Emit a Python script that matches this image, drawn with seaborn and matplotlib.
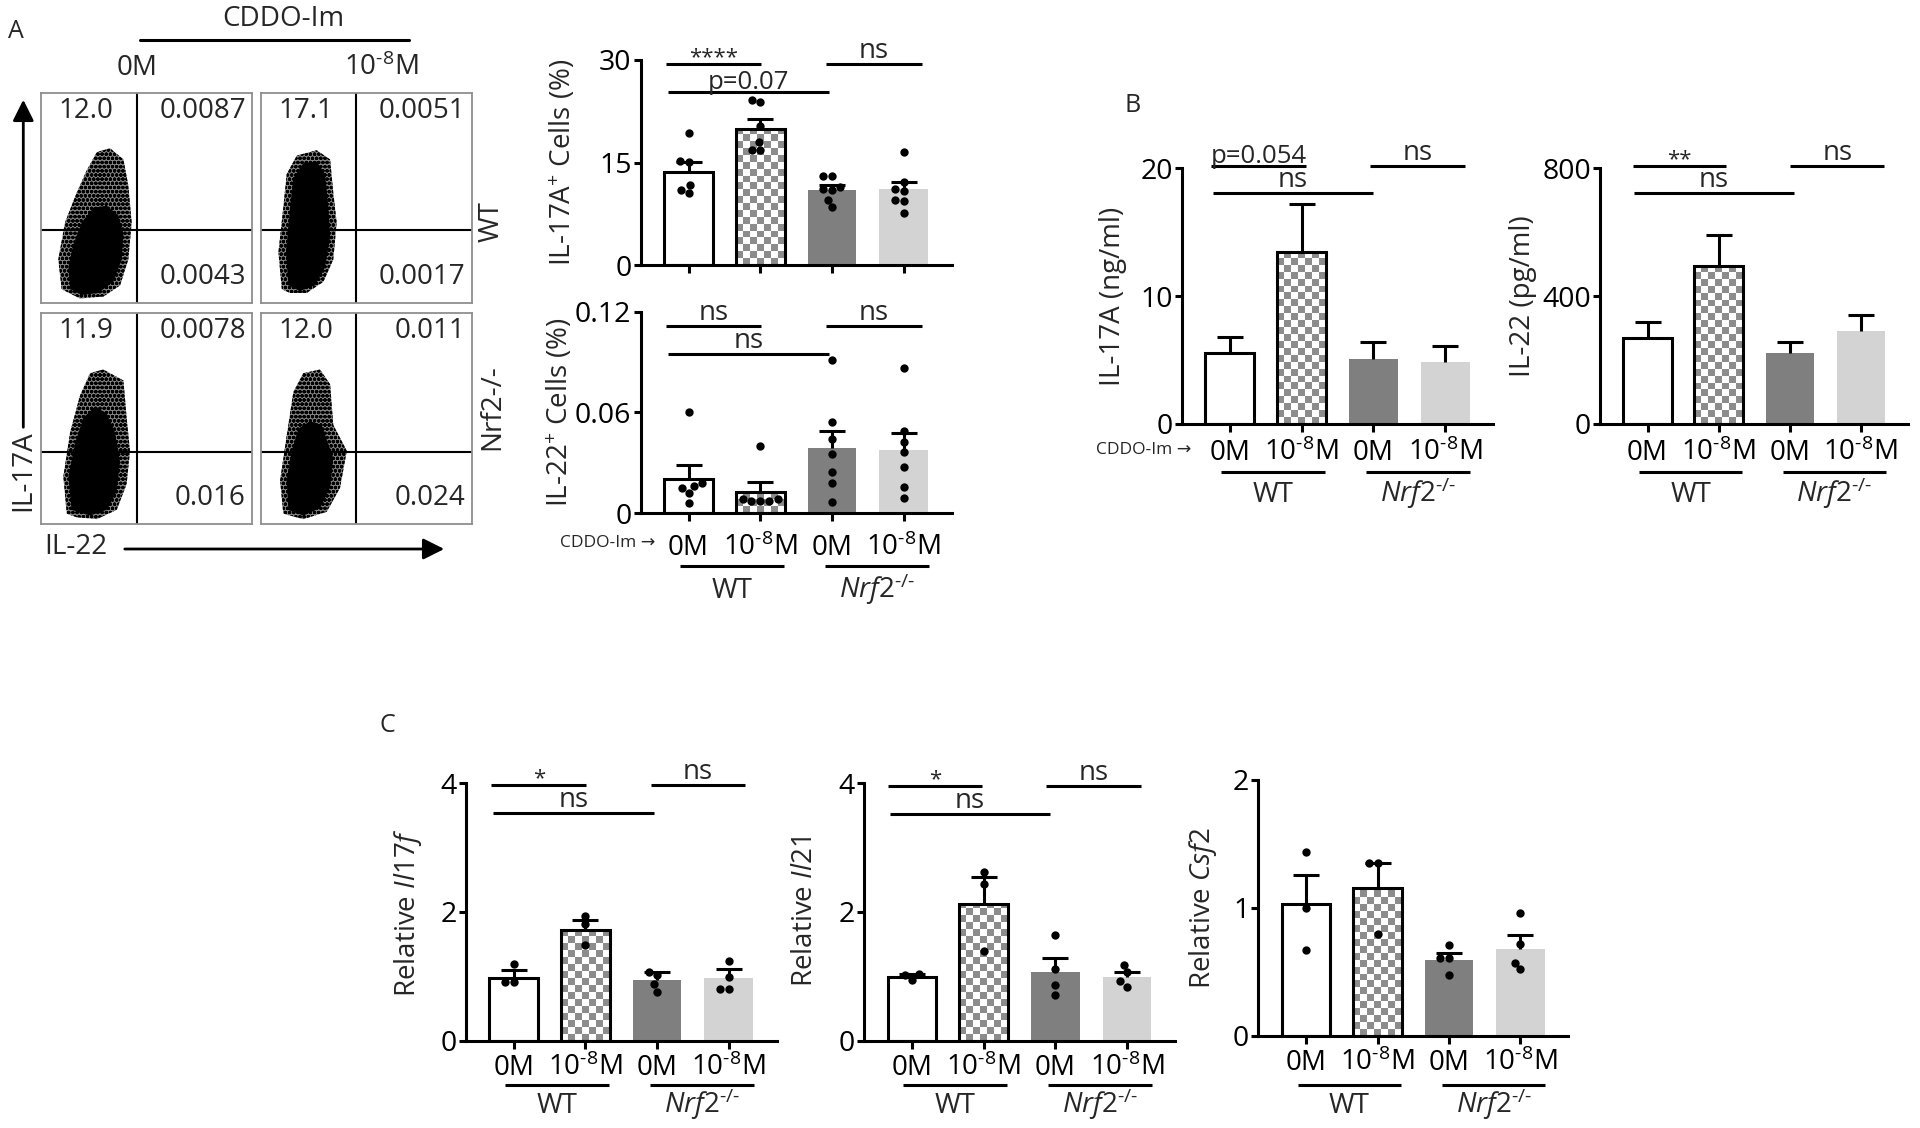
import numpy as np
import pandas as pd
import matplotlib
matplotlib.use("Agg")
import matplotlib.pyplot as plt
import matplotlib.transforms as mtransforms
from matplotlib.colors import ListedColormap
import seaborn as sns

# ---- data ----
groups = ["WT_0M", "WT_CDDO", "KO_0M", "KO_CDDO"]
cond_labels = ["0M", r"10$^{\text{-}8}$M", "0M", r"10$^{\text{-}8}$M"]
genotype_labels = ["WT", r"$\mathit{Nrf2}^{\text{-/-}}$"]
bar_colors = ["white", "white", "#7f7f7f", "#d3d3d3"]

# A: intracellular staining (% of cells)
il17a_pct_mean = [13.7, 19.9, 11.0, 11.1]
il17a_pct_sem = [1.4, 1.45, 0.8, 1.1]
il17a_pct_points = [
    [19.4, 15.3, 15.1, 11.7, 10.5, 11.0],
    [23.8, 24.2, 20.4, 18.0, 16.8, 16.9],
    [13.1, 13.0, 11.2, 11.0, 11.4, 9.6, 8.5],
    [16.6, 12.2, 11.1, 10.9, 9.4, 9.6, 7.7],
]
il22_pct_mean = [0.0203, 0.0127, 0.0386, 0.0377]
il22_pct_sem = [0.0087, 0.0058, 0.0105, 0.0101]
il22_pct_points = [
    [0.060, 0.015, 0.018, 0.016, 0.012, 0.006],
    [0.040, 0.0083, 0.0076, 0.0076, 0.0076, 0.0083],
    [0.091, 0.0545, 0.044, 0.035, 0.0247, 0.0179, 0.007],
    [0.0866, 0.049, 0.0425, 0.0364, 0.0273, 0.0159, 0.0094],
]

# B: ELISA
il17a_elisa_mean = [5.53, 13.43, 5.08, 4.88]
il17a_elisa_sem = [1.30, 3.75, 1.31, 1.22]
il22_elisa_mean = [268, 494, 223, 292]
il22_elisa_sem = [52, 96, 32.5, 48]

# C: qPCR
il17f_mean = [0.98, 1.72, 0.95, 0.98]
il17f_sem = [0.12, 0.155, 0.11, 0.14]
il17f_points = [[1.19, 0.91, 0.91], [1.94, 1.81, 1.49],
                [1.02, 1.07, 0.88, 0.76], [1.24, 0.99, 0.80, 0.80]]
il21_mean = [0.99, 2.12, 1.06, 0.99]
il21_sem = [0.04, 0.42, 0.23, 0.08]
il21_points = [[1.03, 0.95, 1.02], [2.62, 2.44, 1.39],
               [1.65, 1.11, 0.86, 0.71], [1.06, 1.18, 0.92, 0.84]]
csf2_mean = [1.03, 1.16, 0.59, 0.68]
csf2_sem = [0.23, 0.19, 0.06, 0.11]
csf2_points = [[1.44, 1.00, 0.67], [1.35, 1.35, 0.80],
               [0.61, 0.71, 0.61, 0.48], [0.96, 0.72, 0.52, 0.57]]

# significance brackets: (from, to, height, label)
brk_il17a_pct = [(-0.31, 1.01, 29.4, "****"), (-0.29, 1.96, 25.3, "p=0.07"), (1.92, 3.25, 29.4, "ns")]
brk_il22_pct = [(-0.31, 1.01, 0.1113, "ns"), (-0.29, 1.96, 0.0949, "ns"), (1.92, 3.25, 0.1113, "ns")]
brk_il17a_elisa = [(-0.26, 1.06, 20.2, "p=0.054"), (-0.24, 2.0, 18.1, "ns"), (1.95, 3.27, 20.2, "ns")]
brk_il22_elisa = [(-0.21, 1.11, 808, "**"), (-0.19, 2.06, 722, "ns"), (2.01, 3.33, 808, "ns")]
brk_il17f = [(-0.31, 1.01, 3.97, "*"), (-0.29, 1.96, 3.54, "ns"), (1.91, 3.23, 3.97, "ns")]
brk_il21 = [(-0.33, 0.98, 3.96, "*"), (-0.31, 1.92, 3.53, "ns"), (1.87, 3.20, 3.96, "ns")]

# flow plots: quadrant percentages and gate positions (WT 0M, WT CDDO, KO 0M, KO CDDO)
flow_ul = ["12.0", "17.1", "11.9", "12.0"]
flow_ur = ["0.0087", "0.0051", "0.0078", "0.011"]
flow_lr = ["0.0043", "0.0017", "0.016", "0.024"]
flow_vgate = [45.4, 45.2, 45.4, 45.2]
flow_hgate = [34.7, 34.7, 34.4, 34.4]

# outlines of the event clouds (outer sparse halo, dense core)
wt0_outer_x = [9.9, 8.3, 11.5, 17.0, 21.7, 26.5, 32.8, 39.1, 41.4, 43.0, 41.4, 37.5, 29.6, 18.6]
wt0_outer_y = [6.7, 20.8, 38.4, 52.5, 63.0, 71.8, 73.6, 68.3, 56.0, 38.4, 20.8, 8.5, 3.2, 2.3]
wt0_core_x = [13.9, 13.1, 15.4, 19.4, 24.9, 31.2, 36.7, 39.1, 38.3, 34.3, 27.2, 19.4]
wt0_core_y = [6.7, 17.3, 27.8, 38.4, 45.4, 46.3, 41.9, 33.1, 20.8, 10.2, 4.9, 4.0]
wt8_outer_x = [10.0, 8.4, 10.7, 12.3, 17.1, 26.5, 32.9, 34.4, 36.0, 34.4, 29.7, 21.8, 13.9]
wt8_outer_y = [6.7, 24.3, 45.4, 61.3, 70.1, 72.7, 68.3, 52.5, 38.4, 20.8, 10.2, 4.9, 4.9]
wt8_core_x = [13.1, 12.0, 13.9, 15.5, 20.2, 26.5, 30.5, 32.1, 32.9, 30.5, 25.8, 18.6]
wt8_core_y = [8.5, 24.3, 45.4, 59.5, 66.5, 67.4, 61.3, 45.4, 31.3, 17.3, 8.5, 5.8]
ko0_outer_x = [12.3, 10.7, 13.9, 18.6, 23.3, 29.6, 39.1, 40.6, 42.2, 40.6, 35.9, 26.5, 17.0]
ko0_outer_y = [4.9, 22.5, 43.5, 61.1, 71.6, 73.3, 68.1, 50.5, 34.7, 18.9, 6.7, 2.3, 3.2]
ko0_core_x = [14.6, 13.1, 16.2, 20.2, 25.7, 31.2, 35.1, 37.5, 35.9, 31.2, 23.3]
ko0_core_y = [6.7, 22.5, 38.2, 50.5, 55.8, 52.3, 43.5, 29.5, 15.4, 6.7, 4.0]
ko8_outer_x = [10.7, 9.2, 12.3, 15.5, 20.2, 28.1, 32.9, 34.4, 40.8, 37.6, 31.3, 20.2]
ko8_outer_y = [4.9, 20.7, 41.8, 62.8, 71.6, 73.3, 66.3, 47.0, 34.7, 17.2, 5.8, 2.3]
ko8_core_x = [13.1, 12.3, 14.7, 17.9, 23.4, 28.9, 31.3, 34.4, 32.9, 28.1, 20.2]
ko8_core_y = [6.7, 20.7, 34.7, 45.3, 48.8, 47.0, 40.0, 31.2, 17.2, 7.5, 4.0]

# ---- style ----
sns.set_style("ticks")
plt.rcParams["font.family"] = ["Open Sans", "DejaVu Sans"]
plt.rcParams["mathtext.fontset"] = "custom"
plt.rcParams["mathtext.rm"] = "Open Sans"
plt.rcParams["mathtext.it"] = "Open Sans:italic"
plt.rcParams["mathtext.bf"] = "Open Sans:bold"
plt.rcParams["mathtext.default"] = "regular"
plt.rcParams["font.size"] = 20
plt.rcParams["axes.linewidth"] = 2.2
plt.rcParams["axes.edgecolor"] = "black"
plt.rcParams["hatch.linewidth"] = 1.2

W, H = 1920, 1128
fig = plt.figure(figsize=(W / 100, H / 100), dpi=100)
fig.patch.set_facecolor("white")
LW = 2.2
group_spans = [(-0.12, 1.33), (1.9, 3.35)]


def px_axes(left, top, right, bottom):
    return fig.add_axes([left / W, 1 - bottom / H, (right - left) / W, (bottom - top) / H])


def checker_fill(ax, patch, square_px=6.9, color="#8c8c8c"):
    x0, w = patch.get_x(), patch.get_width()
    top = ax.get_ylim()[1]
    px0, py0 = ax.transData.transform((x0, 0))
    px1, py1 = ax.transData.transform((x0 + w, top))
    ncol = max(1, int(round((px1 - px0) / square_px)))
    nrow = max(1, int(round((py1 - py0) / square_px)))
    board = np.add.outer(np.arange(nrow), np.arange(ncol)) % 2
    im = ax.imshow(board, cmap=ListedColormap(["white", color]), extent=(x0, x0 + w, 0, top),
                   aspect="auto", interpolation="nearest", origin="lower", zorder=0.9)
    im.set_clip_path(patch)
    patch.set_facecolor("none")


def offset(ax, dy_px):
    base = mtransforms.blended_transform_factory(ax.transData, ax.transAxes)
    return base + mtransforms.ScaledTranslation(0, -dy_px / 100, fig.dpi_scale_trans)


def bar_chart(ax, means, sems, points, ymax, yticks, ylabel, ylabel_dx, brackets,
              show_xlabels=True, base_dy=35, line_dy=44, label_dy=73):
    df = pd.DataFrame({"group": groups, "value": means})
    sns.barplot(data=df, x="group", y="value", hue="group", order=groups, hue_order=groups,
                palette=bar_colors, width=0.68, saturation=1, errorbar=None, legend=False, ax=ax)
    bars = list(ax.patches[:4])
    for i, p in enumerate(bars):
        p.set_zorder(1)
        if i < 2:
            p.set_edgecolor("black")
            p.set_linewidth(LW)
        else:
            p.set_linewidth(0)
    eb = ax.errorbar(np.arange(4), means, yerr=[np.zeros(4), sems], fmt="none", ecolor="black",
                     elinewidth=LW, capsize=9.6, capthick=LW, zorder=3)
    for cap in eb[1]:
        if np.allclose(cap.get_ydata(), means):
            cap.set_visible(False)
    if points is not None:
        rows = [(g, v) for g, vals in zip(groups, points) for v in vals]
        pts = pd.DataFrame(rows, columns=["group", "value"])
        sns.swarmplot(data=pts, x="group", y="value", order=groups, color="black", size=6,
                      ax=ax, zorder=4)
    ax.set_xlim(-0.67, 3.67)
    ax.set_ylim(0, ymax)
    ax.set_yticks(yticks)
    ax.set_yticklabels([f"{t:g}" for t in yticks])
    ax.set_xticks(range(4))
    if show_xlabels:
        ax.set_xticklabels(cond_labels, va="baseline")
    else:
        ax.set_xticklabels([])
    sns.despine(ax=ax)
    ax.tick_params(axis="y", length=5, width=LW, pad=1.5, labelsize=20.5, colors="black")
    ax.tick_params(axis="x", length=6, width=LW, pad=(base_dy - 8.3) / 1.389, labelsize=20,
                   colors="black")
    ax.set_xlabel("")
    ax.set_ylabel(ylabel, fontsize=20, va="center")
    ax_w = ax.get_position().width * W
    ax.yaxis.set_label_coords(-ylabel_dx / ax_w, 0.5)
    checker_fill(ax, bars[1])
    for x0, x1, y, txt in brackets:
        ax.plot([x0, x1], [y, y], color="black", lw=LW, clip_on=False, solid_capstyle="butt")
        if "*" in txt:
            ax.annotate(txt, xy=((x0 + x1) / 2, y), xytext=(0, 0.7), textcoords="offset points",
                        ha="center", va="baseline", fontsize=16, annotation_clip=False)
        elif txt.startswith("p="):
            ax.annotate(txt, xy=((x0 + x1) / 2, y), xytext=(0, 2.2), textcoords="offset points",
                        ha="center", va="baseline", fontsize=18.5, annotation_clip=False)
        else:
            ax.annotate(txt, xy=((x0 + x1) / 2, y), xytext=(0, 4.2), textcoords="offset points",
                        ha="center", va="baseline", fontsize=20, annotation_clip=False)
    if show_xlabels:
        for (x0, x1), lab in zip(group_spans, genotype_labels):
            ax.plot([x0, x1], [0, 0], transform=offset(ax, line_dy), color="black", lw=LW,
                    clip_on=False, solid_capstyle="butt")
            ax.text((x0 + x1) / 2, 0, lab, transform=offset(ax, label_dy), ha="center",
                    va="baseline", fontsize=20)


# ---- A: flow plots ----
flow_boxes = [(40.7, 92.7, 252.3, 303.3), (260.7, 92.7, 471.7, 303.3),
              (40.7, 313.3, 252.3, 524.0), (260.7, 313.3, 471.7, 524.0)]
clouds = [(wt0_outer_x, wt0_outer_y, wt0_core_x, wt0_core_y),
          (wt8_outer_x, wt8_outer_y, wt8_core_x, wt8_core_y),
          (ko0_outer_x, ko0_outer_y, ko0_core_x, ko0_core_y),
          (ko8_outer_x, ko8_outer_y, ko8_core_x, ko8_core_y)]
for k, box in enumerate(flow_boxes):
    ax = px_axes(*box)
    ox, oy, cx, cy = clouds[k]
    ax.fill(ox, oy, facecolor="#858585", edgecolor="black", hatch="oooo", lw=0)
    ax.fill(cx, cy, color="black", lw=0)
    ax.axvline(flow_vgate[k], color="black", lw=1.5)
    ax.axhline(flow_hgate[k], color="black", lw=1.5)
    ax.set_xlim(0, 100)
    ax.set_ylim(0, 100)
    ax.set_xticks([])
    ax.set_yticks([])
    for s in ax.spines.values():
        s.set_color("#8f8f8f")
        s.set_linewidth(1.3)
    ax.text(21.4, 91.5, flow_ul[k], ha="center", va="center", fontsize=20)
    ax.text(97, 91.5, flow_ur[k], ha="right", va="center", fontsize=20)
    ax.text(97, 12.3, flow_lr[k], ha="right", va="center", fontsize=20)

# ---- A: bar charts ----
ax = px_axes(640.5, 60, 951.7, 265.3)
bar_chart(ax, il17a_pct_mean, il17a_pct_sem, il17a_pct_points, 30, [0, 15, 30],
          "IL-17A$^{+}$ Cells (%)", 77, brk_il17a_pct, show_xlabels=False)
ax = px_axes(640.5, 311.7, 951.7, 513.3)
bar_chart(ax, il22_pct_mean, il22_pct_sem, il22_pct_points, 0.12, [0, 0.06, 0.12],
          "IL-22$^{+}$ Cells (%)", 80, brk_il22_pct, base_dy=41.7, line_dy=52.7, label_dy=85)

# ---- B ----
ax = px_axes(1181.7, 168.3, 1493.3, 424)
bar_chart(ax, il17a_elisa_mean, il17a_elisa_sem, None, 20, [0, 10, 20],
          "IL-17A (ng/ml)", 68.7, brk_il17a_elisa, base_dy=36, line_dy=47.7, label_dy=77.7)
ax = px_axes(1600, 168.3, 1908.3, 424)
bar_chart(ax, il22_elisa_mean, il22_elisa_sem, None, 800, [0, 400, 800],
          "IL-22 (pg/ml)", 76.7, brk_il22_elisa, base_dy=36, line_dy=47.7, label_dy=77.7)

# ---- C ----
ax = px_axes(465.7, 783.3, 776.7, 1040.7)
bar_chart(ax, il17f_mean, il17f_sem, il17f_points, 4, [0, 2, 4],
          r"Relative $\mathit{Il17f}$", 57.4, brk_il17f, base_dy=34.3, line_dy=44.3, label_dy=72.6)
ax = px_axes(864, 783.3, 1175, 1040.7)
bar_chart(ax, il21_mean, il21_sem, il21_points, 4, [0, 2, 4],
          r"Relative $\mathit{Il21}$", 59, brk_il21, base_dy=34.3, line_dy=44.3, label_dy=72.6)
ax = px_axes(1258.3, 780, 1568.3, 1036)
bar_chart(ax, csf2_mean, csf2_sem, csf2_points, 2, [0, 1, 2],
          r"Relative $\mathit{Csf2}$", 55, [], base_dy=34.3, line_dy=49, label_dy=77.3)

# ---- free text / arrows (pixel coordinates) ----
ov = fig.add_axes([0, 0, 1, 1])
ov.set_xlim(0, W)
ov.set_ylim(H, 0)
ov.axis("off")
ov.set_zorder(10)
ov.text(16, 31, "A", ha="center", va="center", fontsize=18)
ov.text(1132.5, 105, "B", ha="center", va="center", fontsize=18)
ov.text(387, 725, "C", ha="center", va="center", fontsize=18)
ov.text(283, 18.5, "CDDO-Im", ha="center", va="center", fontsize=20)
ov.plot([140, 409], [40, 40], color="black", lw=LW)
ov.text(137, 68, "0M", ha="center", va="center", fontsize=20)
ov.text(381, 68, r"10$^{\text{-}8}$M", ha="center", va="center", fontsize=20)
ov.annotate("", xy=(23.3, 97), xytext=(23.3, 430),
            arrowprops=dict(arrowstyle="-|>", color="black", lw=2, mutation_scale=32))
ov.annotate("", xy=(447, 549), xytext=(122, 549),
            arrowprops=dict(arrowstyle="-|>", color="black", lw=2, mutation_scale=32))
ov.text(23, 471, "IL-17A", rotation=90, ha="center", va="center", fontsize=20)
ov.text(76, 547.5, "IL-22", ha="center", va="center", fontsize=20)
ov.text(492, 222, "WT", rotation=90, ha="center", va="center", fontsize=20)
ov.text(492, 407, "Nrf2-/-", rotation=90, ha="center", va="center", fontsize=20)
ov.text(655, 543.3, "CDDO-Im →", ha="right", va="center", fontsize=12.5)
ov.text(1191.7, 450, "CDDO-Im →", ha="right", va="center", fontsize=12.5)

fig.savefig("out.png", dpi=100, facecolor="white")
